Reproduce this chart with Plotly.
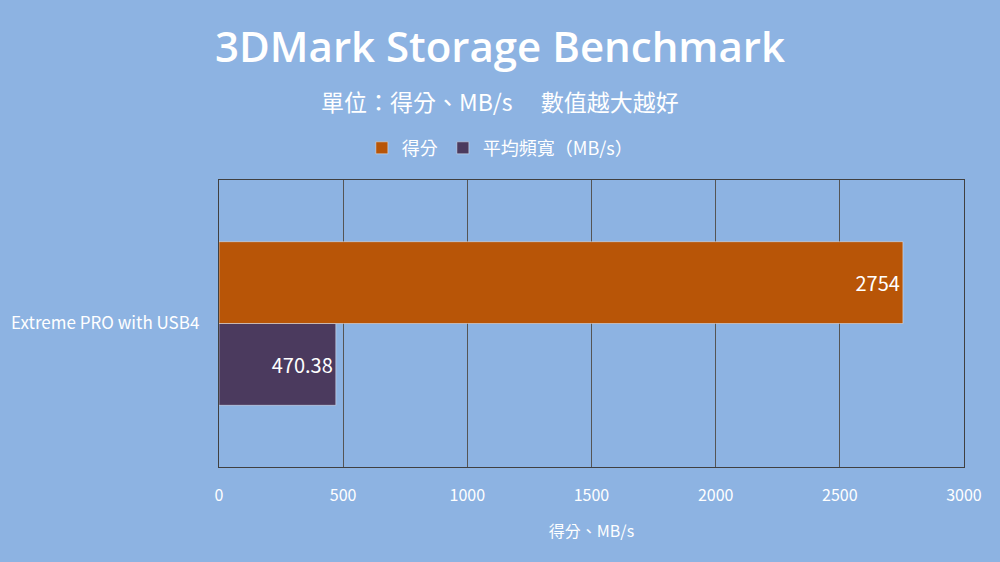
import plotly.graph_objects as go

categories = ["Extreme PRO with USB4"]
score = [2754]
bandwidth = [470.38]
x_ticks = [0, 500, 1000, 1500, 2000, 2500, 3000]

font = "Noto Sans CJK TC"

fig = go.Figure()
fig.add_trace(go.Bar(y=categories, x=bandwidth, orientation="h", name="平均頻寬（MB/s）",
                     marker_color="#4B3A5E", text=[f"{v:.2f}" for v in bandwidth],
                     textposition="inside", insidetextanchor="end",
                     textfont=dict(color="white", size=20)))
fig.add_trace(go.Bar(y=categories, x=score, orientation="h", name="得分",
                     marker_color="#B85507", text=[str(v) for v in score],
                     textposition="inside", insidetextanchor="end",
                     textfont=dict(color="white", size=20)))

fig.update_layout(
    width=1000, height=562,
    paper_bgcolor="#8DB3E2", plot_bgcolor="#8DB3E2",
    font=dict(family=font, color="white", size=16),
    margin=dict(l=219, r=36, t=180, b=95),
    barmode="group", bargap=0.43, bargroupgap=0,
    showlegend=True,
    title=dict(text="3DMark Storage Benchmark", x=0.5, xanchor="center",
               yref="container", y=1 - 47 / 562, yanchor="middle",
               font=dict(family="Open Sans", size=42, weight=600, color="white")),
    annotations=[dict(text="單位：得分、MB/s　 數值越大越好", xref="paper", yref="paper",
                      x=0.377, xanchor="center", y=1.275, yanchor="middle", showarrow=False,
                      font=dict(size=23, color="white"))],
    legend=dict(orientation="h", x=0.377, xanchor="center", y=1.111, yanchor="middle",
                traceorder="reversed", font=dict(size=18, color="white")),
)
fig.update_xaxes(range=[0, 3000], tickvals=x_ticks, showgrid=True, gridcolor="#555555",
                 gridwidth=1, showline=True, linecolor="#404040", mirror=True,
                 zeroline=False, ticks="", ticklabelstandoff=14,
                 tickfont=dict(size=16, color="white"),
                 title=dict(text="得分、MB/s", font=dict(size=16, color="white"), standoff=20))
fig.update_yaxes(showline=True, linecolor="#404040", mirror=True, ticks="",
                 tickfont=dict(size=17, color="white"), ticksuffix="    ")

fig.write_html("out.html", config={"displayModeBar": False},
               post_script="document.body.style.margin='0';")
